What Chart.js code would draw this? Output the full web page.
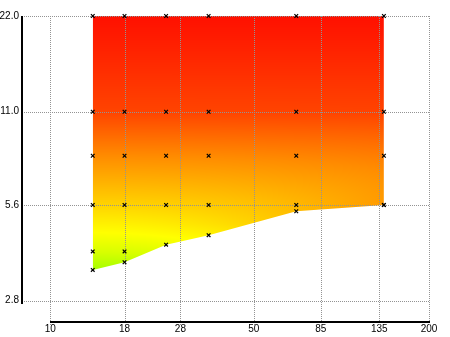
<html>

<head>
    <script src="https://cdn.jsdelivr.net/npm/chart.js"></script>
    <style>
        body { margin: 0; background: #fff; }
        #wrap { width: 450px; height: 337px; }
    </style>
</head>

<body>
<div id="wrap">
<canvas id="myChart"></canvas>
</div>
</body>
<script>
    // sampled columns and the lower boundary of the covered region
    var edgeX = [14, 18, 25, 35, 70, 140];
    var lowerEdge = [3.5, 3.7, 4.2, 4.5, 5.35, 5.6];
    var upperEdge = 22;
    // regular sample rows, plus a few extra samples
    var sampleRows = [22, 11, 8, 5.6];
    var extraX = [14, 18];
    var extraY = [4, 4];
    // axis ticks
    var xTicks = [10, 18, 28, 50, 85, 135, 200];
    var yTicks = [2.8, 5.6, 11, 22];

    // colour ramp along the y axis (value -> colour)
    var heatStops = [
        [22, '#ff1000'], [11, '#ff4400'], [8, '#ff8c00'], [5.6, '#ffd400'],
        [4.6, '#ffff00'], [4.0, '#d8ff00'], [3.5, '#a4ff00']
    ];

    var lowerPts = edgeX.map(function (x, i) { return { x: x, y: lowerEdge[i] }; });
    var upperPts = [{ x: edgeX[0], y: upperEdge }, { x: edgeX[edgeX.length - 1], y: upperEdge }];
    var markerPts = [];
    edgeX.forEach(function (x) {
        sampleRows.forEach(function (y) { markerPts.push({ x: x, y: y }); });
    });
    extraX.forEach(function (x, i) { markerPts.push({ x: x, y: extraY[i] }); });
    lowerPts.forEach(function (p) { markerPts.push(p); });

    function rgb(hex) {
        return [parseInt(hex.substr(1, 2), 16), parseInt(hex.substr(3, 2), 16), parseInt(hex.substr(5, 2), 16)];
    }

    var fillCache = null;
    function heatPattern(chart) {
        var key = chart.width + 'x' + chart.height;
        if (fillCache && fillCache.key === key) return fillCache.pattern;
        var a = chart.chartArea, xs = chart.scales.x, ys = chart.scales.y;
        var stops = heatStops.map(function (s) { return [ys.getPixelForValue(s[0]), rgb(s[1])]; });
        var x0 = xs.getPixelForValue(edgeX[0]), x1 = xs.getPixelForValue(edgeX[edgeX.length - 1]);
        var yTop = ys.getPixelForValue(upperEdge), yMid = ys.getPixelForValue(5.6);
        var cv = document.createElement('canvas');
        cv.width = chart.width; cv.height = chart.height;
        var c = cv.getContext('2d');
        var img = c.createImageData(cv.width, cv.height);
        for (var py = Math.floor(a.top); py < Math.ceil(a.bottom); py++) {
            for (var px = Math.floor(a.left); px < Math.ceil(a.right); px++) {
                // colour bands sag towards the right-hand side lower down
                var fx = Math.min(1, Math.max(0, (px - x0) / (x1 - x0)));
                var r = Math.min(1.1, Math.max(0, (py - yTop) / (yMid - yTop)));
                var yy = py - 40 * fx * fx * Math.pow(r, 5);
                var col;
                if (yy <= stops[0][0]) col = stops[0][1];
                else if (yy >= stops[stops.length - 1][0]) col = stops[stops.length - 1][1];
                else {
                    for (var k = 0; k < stops.length - 1; k++) {
                        if (yy >= stops[k][0] && yy <= stops[k + 1][0]) {
                            var t = (yy - stops[k][0]) / (stops[k + 1][0] - stops[k][0]);
                            col = [0, 1, 2].map(function (j) { return stops[k][1][j] + t * (stops[k + 1][1][j] - stops[k][1][j]); });
                            break;
                        }
                    }
                }
                var o = (py * cv.width + px) * 4;
                img.data[o] = col[0]; img.data[o + 1] = col[1]; img.data[o + 2] = col[2]; img.data[o + 3] = 255;
            }
        }
        c.putImageData(img, 0, 0);
        fillCache = { key: key, pattern: chart.ctx.createPattern(cv, 'no-repeat') };
        return fillCache.pattern;
    }

    // dotted grid over the fill, and the two short black axis lines
    var framePlugin = {
        id: 'frame',
        afterDatasetDraw: function (chart, args) {
            if (args.index !== 0) return;
            var ctx = chart.ctx, a = chart.chartArea, xs = chart.scales.x, ys = chart.scales.y;
            ctx.save();
            ctx.strokeStyle = '#939393';
            ctx.lineWidth = 1;
            ctx.setLineDash([1, 1]);
            xTicks.forEach(function (v) {
                var px = Math.round(xs.getPixelForValue(v)) + 0.5;
                ctx.beginPath(); ctx.moveTo(px, a.top); ctx.lineTo(px, a.bottom + 3); ctx.stroke();
            });
            yTicks.forEach(function (v) {
                var py = Math.round(ys.getPixelForValue(v)) + 0.5;
                ctx.beginPath(); ctx.moveTo(a.left, py); ctx.lineTo(a.right, py); ctx.stroke();
            });
            ctx.setLineDash([]);
            ctx.strokeStyle = '#000';
            ctx.lineWidth = 2;
            ctx.beginPath();
            ctx.moveTo(Math.round(xs.getPixelForValue(xTicks[0])), Math.round(a.bottom));
            ctx.lineTo(Math.round(xs.getPixelForValue(xTicks[xTicks.length - 1])) + 1, Math.round(a.bottom));
            ctx.stroke();
            ctx.beginPath();
            ctx.moveTo(Math.round(a.left), Math.round(ys.getPixelForValue(yTicks[yTicks.length - 1])));
            ctx.lineTo(Math.round(a.left), Math.round(ys.getPixelForValue(yTicks[0])) + 3);
            ctx.stroke();
            ctx.restore();
        }
    };

    Chart.defaults.font.family = 'Liberation Sans';
    Chart.defaults.font.size = 10;
    Chart.defaults.color = '#000';

    var ctx = document.getElementById('myChart').getContext('2d');
    var chart = new Chart(ctx, {
        type: 'line',
        data: {
            datasets: [
                {
                    data: upperPts,
                    fill: '+1',
                    backgroundColor: function (c) {
                        return c.chart.chartArea ? heatPattern(c.chart) : '#ff8000';
                    },
                    borderColor: 'transparent',
                    borderWidth: 0,
                    pointRadius: 0,
                    order: 2
                },
                {
                    data: lowerPts,
                    fill: false,
                    borderColor: 'transparent',
                    borderWidth: 0,
                    pointRadius: 0,
                    order: 3
                },
                {
                    data: markerPts,
                    showLine: false,
                    fill: false,
                    pointStyle: 'crossRot',
                    pointRadius: 2.6,
                    borderColor: '#000',
                    borderWidth: 1.2,
                    clip: false,
                    order: 0
                }
            ]
        },
        options: {
            animation: false,
            responsive: true,
            maintainAspectRatio: false,
            events: [],
            layout: { padding: { top: 16, right: 21, left: 0, bottom: 0 } },
            plugins: {
                legend: { display: false },
                tooltip: { enabled: false },
                filler: { drawTime: 'beforeDatasetDraw' }
            },
            scales: {
                x: {
                    type: 'logarithmic',
                    min: 8,
                    max: 200,
                    grid: { display: false, drawTicks: false },
                    border: { display: false },
                    afterBuildTicks: function (s) { s.ticks = xTicks.map(function (v) { return { value: v }; }); },
                    afterFit: function (s) { s.height = 15; },
                    ticks: { autoSkip: false, maxRotation: 0, padding: 1, callback: function (v) { return String(v); } }
                },
                y: {
                    type: 'logarithmic',
                    min: 2.4,
                    max: 22,
                    grid: { display: false, drawTicks: false },
                    border: { display: false },
                    afterBuildTicks: function (s) { s.ticks = yTicks.map(function (v) { return { value: v }; }); },
                    afterFit: function (s) { s.width = 22; },
                    ticks: { autoSkip: false, padding: 3, callback: function (v) { return v.toFixed(1); } }
                }
            }
        },
        plugins: [framePlugin]
    });
</script>

</html>
